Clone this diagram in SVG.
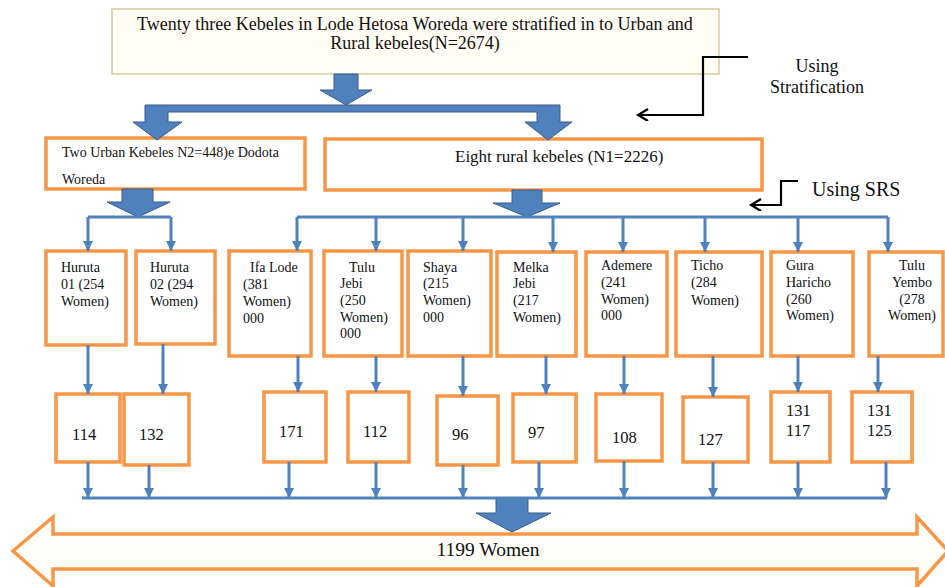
<svg xmlns="http://www.w3.org/2000/svg" width="945" height="587" viewBox="0 0 945 587" font-family="'Liberation Serif', 'DejaVu Serif', 'Times New Roman', serif">
<style>
  text { font-family: "Liberation Serif", "DejaVu Serif", "Times New Roman", serif; fill: #111; }
  .box { fill: #ffffff; stroke: #f79646; stroke-width: 3.5; }
  .top { fill: #fffdf4; stroke: #d9c89e; stroke-width: 1.5; }
  .thick { fill: #4f81bd; stroke: #385d8a; stroke-width: 1; }
  .conn { stroke: #4f81bd; stroke-width: 3; fill: none; }
  .elbow { stroke: #000; stroke-width: 2.2; fill: none; }
  .t13 { font-size: 14px; }
  .t16 { font-size: 16.5px; }
</style>
<defs>
  <marker id="ab" markerUnits="userSpaceOnUse" markerWidth="11" markerHeight="11" refX="10" refY="5" orient="auto">
    <path d="M0,0 L10,5 L0,10 z" fill="#4f81bd"/>
  </marker>
  <marker id="ak" markerUnits="userSpaceOnUse" markerWidth="14" markerHeight="14" refX="11" refY="6" orient="auto">
    <path d="M1,0 L11,6 L1,12" fill="none" stroke="#000" stroke-width="2.2"/>
  </marker>
</defs>
<rect width="945" height="587" fill="#ffffff"/>

<g id="top-box">
  <rect class="top" x="112" y="9" width="607" height="65"/>
  <text x="415" y="30" font-size="18" text-anchor="middle">Twenty three Kebeles in Lode Hetosa Woreda were stratified in to Urban and</text>
  <text x="415" y="49" font-size="18" text-anchor="middle">Rural kebeles(N=2674)</text>
</g>

<g id="urban">
  <rect class="box" x="46" y="138" width="259" height="51"/>
  <text x="62" y="157" font-size="14">Two Urban Kebeles N2=448)e Dodota</text>
  <text x="62" y="184" font-size="14">Woreda</text>
</g>

<g id="rural">
  <rect class="box" x="325" y="139" width="437" height="51"/>
  <text x="455" y="162" font-size="17">Eight rural kebeles (N1=2226)</text>
</g>

<g id="using-stratification">
  <text x="817" y="72" font-size="18" text-anchor="middle">Using</text>
  <text x="817" y="93" font-size="18" text-anchor="middle">Stratification</text>
</g>
<g id="using-srs">
  <text x="812" y="196" font-size="20">Using SRS</text>
</g>

<g id="huruta01" class="t13">
  <rect class="box" x="46" y="251" width="80" height="94"/>
  <text x="61" y="272">Huruta</text>
  <text x="61" y="289">01 (254</text>
  <text x="61" y="306">Women)</text>
</g>
<g id="huruta02" class="t13">
  <rect class="box" x="136" y="251" width="79" height="93"/>
  <text x="150" y="272">Huruta</text>
  <text x="150" y="289">02 (294</text>
  <text x="150" y="306">Women)</text>
</g>
<g id="ifalode" class="t13">
  <rect class="box" x="229" y="251" width="82" height="105"/>
  <text x="250" y="272">Ifa Lode</text>
  <text x="243" y="289">(381</text>
  <text x="243" y="306">Women)</text>
  <text x="243" y="323">000</text>
</g>
<g id="tulujebi" class="t13">
  <rect class="box" x="324" y="251" width="78" height="105"/>
  <text x="362" y="272" text-anchor="middle">Tulu</text>
  <text x="340" y="288">Jebi</text>
  <text x="340" y="305">(250</text>
  <text x="340" y="322">Women)</text>
  <text x="340" y="338">000</text>
</g>
<g id="shaya" class="t13">
  <rect class="box" x="408" y="251" width="83" height="105"/>
  <text x="423" y="272">Shaya</text>
  <text x="423" y="288">(215</text>
  <text x="423" y="305">Women)</text>
  <text x="423" y="322">000</text>
</g>
<g id="melkajebi" class="t13">
  <rect class="box" x="497" y="252" width="79" height="104"/>
  <text x="513" y="272">Melka</text>
  <text x="513" y="288">Jebi</text>
  <text x="513" y="305">(217</text>
  <text x="513" y="322">Women)</text>
</g>
<g id="ademere" class="t13">
  <rect class="box" x="586" y="252" width="81" height="104"/>
  <text x="601" y="270">Ademere</text>
  <text x="601" y="287">(241</text>
  <text x="601" y="304">Women)</text>
  <text x="601" y="320">000</text>
</g>
<g id="ticho" class="t13">
  <rect class="box" x="676" y="252" width="86" height="104"/>
  <text x="691" y="270">Ticho</text>
  <text x="691" y="287">(284</text>
  <text x="691" y="305">Women)</text>
</g>
<g id="guraharicho" class="t13">
  <rect class="box" x="771" y="252" width="82" height="104"/>
  <text x="786" y="270">Gura</text>
  <text x="786" y="287">Haricho</text>
  <text x="786" y="304">(260</text>
  <text x="786" y="320">Women)</text>
</g>
<g id="tuluyembo" class="t13">
  <rect class="box" x="869" y="252" width="74" height="104"/>
  <text x="912" y="270" text-anchor="middle">Tulu</text>
  <text x="912" y="287" text-anchor="middle">Yembo</text>
  <text x="912" y="304" text-anchor="middle">(278</text>
  <text x="912" y="320" text-anchor="middle">Women)</text>
</g>

<g id="n114" class="t16">
  <rect class="box" x="56" y="394" width="64" height="68"/>
  <text x="72" y="440">114</text>
</g>
<g id="n132" class="t16">
  <rect class="box" x="124" y="394" width="65" height="71"/>
  <text x="139" y="440">132</text>
</g>
<g id="n171" class="t16">
  <rect class="box" x="264" y="392" width="62" height="70"/>
  <text x="279" y="437">171</text>
</g>
<g id="n112" class="t16">
  <rect class="box" x="348" y="392" width="61" height="70"/>
  <text x="363" y="437">112</text>
</g>
<g id="n96" class="t16">
  <rect class="box" x="437" y="396" width="61" height="69"/>
  <text x="452" y="440">96</text>
</g>
<g id="n97" class="t16">
  <rect class="box" x="513" y="394" width="63" height="68"/>
  <text x="528" y="438">97</text>
</g>
<g id="n108" class="t16">
  <rect class="box" x="596" y="394" width="66" height="67"/>
  <text x="612" y="443">108</text>
</g>
<g id="n127" class="t16">
  <rect class="box" x="683" y="397" width="65" height="65"/>
  <text x="698" y="445">127</text>
</g>
<g id="n131-117" class="t16">
  <rect class="box" x="771" y="392" width="59" height="70"/>
  <text x="786" y="416">131</text>
  <text x="786" y="436">117</text>
</g>
<g id="n131-125" class="t16">
  <rect class="box" x="852" y="392" width="60" height="70"/>
  <text x="867" y="416">131</text>
  <text x="867" y="436">125</text>
</g>

<g id="total">
  <polygon points="13,551 53,517 53,534 917,534 917,517 948,551 917,586 917,569 53,569 53,586" fill="#fffef9" stroke="#f79646" stroke-width="3.5" stroke-linejoin="miter"/>
  <text x="488" y="556" font-size="19.5" text-anchor="middle">1199 Women</text>
</g>

<g id="connectors">
  <path class="thick" d="M334,74 L358,74 L358,90 L372,90 L346,105 L320,90 L334,90 Z"/>
  <path class="thick" d="M145,105 L560,105 L560,122 L572,122 L548,140 L525,122 L537,122 L537,112 L168,112 L168,122 L182,122 L157,140 L133,122 L145,122 Z"/>
  <path class="thick" d="M122,189 L153,189 L153,202 L170,202 L138,217 L107,202 L122,202 Z"/>
  <path class="thick" d="M512,190 L542,190 L542,203 L560,203 L527,217 L493,203 L512,203 Z"/>
  <path class="thick" d="M496,498 L528,498 L528,513 L551,513 L512,532 L476,513 L496,513 Z"/>

  <path class="elbow" d="M748,57 L703,57 L703,115 L638,115" marker-end="url(#ak)"/>
  <path class="elbow" d="M798,181 L781,181 L781,205 L751,205" marker-end="url(#ak)"/>

  <path class="conn" d="M88,217 L171,217"/>
  <path class="conn" d="M88,217 L88,251" marker-end="url(#ab)"/>
  <path class="conn" d="M171,217 L171,251" marker-end="url(#ab)"/>
  <path class="conn" d="M297,217 L888,217"/>
  <path class="conn" d="M297,217 L297,251" marker-end="url(#ab)"/>
  <path class="conn" d="M376,217 L376,251" marker-end="url(#ab)"/>
  <path class="conn" d="M463,217 L463,251" marker-end="url(#ab)"/>
  <path class="conn" d="M553,217 L553,252" marker-end="url(#ab)"/>
  <path class="conn" d="M623,217 L623,252" marker-end="url(#ab)"/>
  <path class="conn" d="M705,217 L705,252" marker-end="url(#ab)"/>
  <path class="conn" d="M798,217 L798,252" marker-end="url(#ab)"/>
  <path class="conn" d="M888,217 L888,252" marker-end="url(#ab)"/>

  <path class="conn" d="M88,345 L88,394" marker-end="url(#ab)"/>
  <path class="conn" d="M163,344 L163,394" marker-end="url(#ab)"/>
  <path class="conn" d="M298,356 L298,392" marker-end="url(#ab)"/>
  <path class="conn" d="M376,356 L376,392" marker-end="url(#ab)"/>
  <path class="conn" d="M463,356 L463,396" marker-end="url(#ab)"/>
  <path class="conn" d="M546,356 L546,394" marker-end="url(#ab)"/>
  <path class="conn" d="M624,356 L624,394" marker-end="url(#ab)"/>
  <path class="conn" d="M713,356 L713,397" marker-end="url(#ab)"/>
  <path class="conn" d="M798,356 L798,392" marker-end="url(#ab)"/>
  <path class="conn" d="M878,356 L878,392" marker-end="url(#ab)"/>

  <path class="conn" d="M82,498 L887,498"/>
  <path class="conn" d="M88,462 L88,498" marker-end="url(#ab)"/>
  <path class="conn" d="M149,465 L149,498" marker-end="url(#ab)"/>
  <path class="conn" d="M289,462 L289,498" marker-end="url(#ab)"/>
  <path class="conn" d="M376,462 L376,498" marker-end="url(#ab)"/>
  <path class="conn" d="M463,465 L463,498" marker-end="url(#ab)"/>
  <path class="conn" d="M539,462 L539,498" marker-end="url(#ab)"/>
  <path class="conn" d="M624,461 L624,498" marker-end="url(#ab)"/>
  <path class="conn" d="M713,462 L713,498" marker-end="url(#ab)"/>
  <path class="conn" d="M798,462 L798,498" marker-end="url(#ab)"/>
  <path class="conn" d="M886,462 L886,498" marker-end="url(#ab)"/>
</g>
</svg>
